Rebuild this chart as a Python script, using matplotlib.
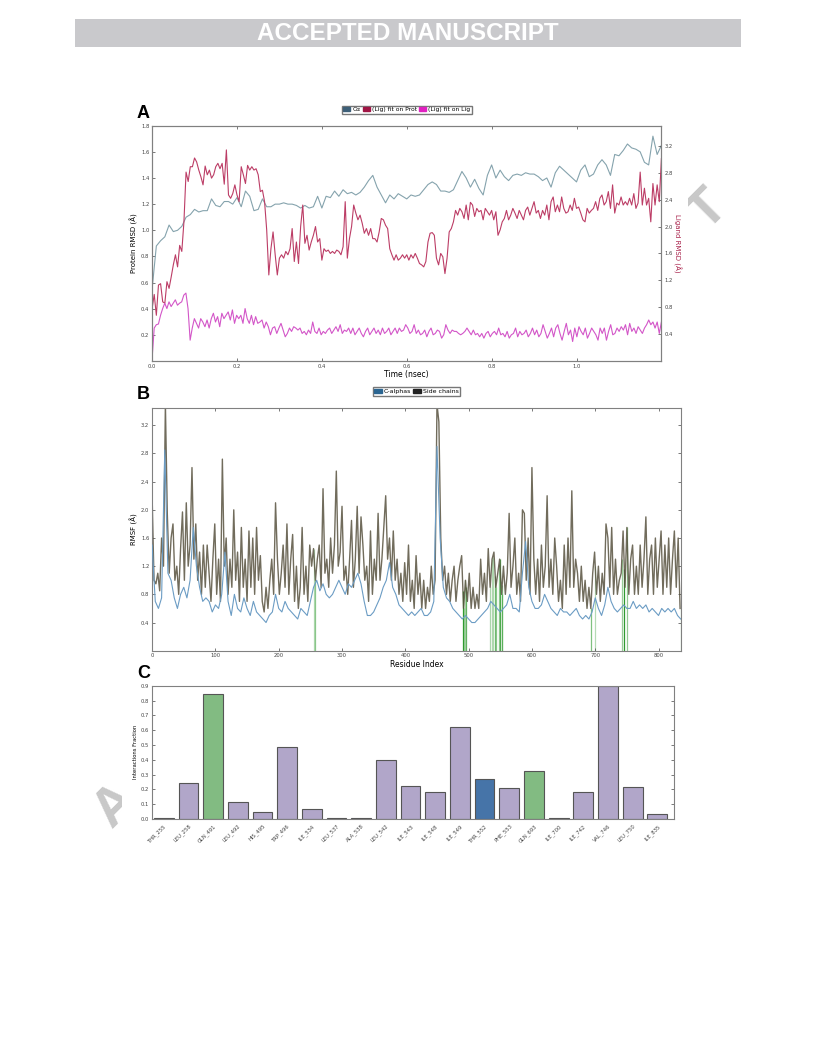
import numpy as np
import matplotlib.pyplot as plt
from matplotlib.patches import Patch, Rectangle

W, H = 816, 1056

# ---- panel A : RMSD vs time ----
ca_rmsd = [0.55, 0.88, 0.92, 0.95, 1.04, 0.99, 1.00, 1.03, 1.10, 1.12,
           1.16, 1.14, 1.15, 1.15, 1.24, 1.19, 1.18, 1.22, 1.22, 1.20,
           1.25, 1.18, 1.30, 1.26, 1.15, 1.16, 1.24, 1.18, 1.18, 1.20,
           1.20, 1.21, 1.20, 1.20, 1.19, 1.17, 1.19, 1.17, 1.18, 1.26,
           1.17, 1.26, 1.25, 1.30, 1.26, 1.31, 1.28, 1.29, 1.27, 1.29,
           1.33, 1.38, 1.42, 1.33, 1.27, 1.21, 1.27, 1.24, 1.28, 1.26,
           1.24, 1.27, 1.26, 1.27, 1.31, 1.35, 1.37, 1.35, 1.30, 1.30,
           1.29, 1.31, 1.38, 1.45, 1.40, 1.33, 1.39, 1.32, 1.27, 1.42,
           1.50, 1.40, 1.46, 1.41, 1.38, 1.42, 1.43, 1.42, 1.44, 1.43,
           1.43, 1.41, 1.38, 1.40, 1.33, 1.44, 1.49, 1.46, 1.43, 1.40,
           1.37, 1.46, 1.50, 1.41, 1.43, 1.50, 1.54, 1.50, 1.42, 1.58,
           1.57, 1.61, 1.66, 1.63, 1.62, 1.60, 1.52, 1.50, 1.72, 1.58,
           1.65]

lig_prot = [0.78, 0.99, 0.68, 1.13, 1.15, 0.88, 0.86, 1.18, 1.08, 1.25,
            1.43, 1.58, 1.40, 1.72, 1.63, 2.07, 2.81, 2.67, 2.89, 2.89,
            3.02, 2.96, 2.84, 2.74, 2.62, 2.90, 2.77, 2.84, 2.72, 2.77,
            2.89, 2.94, 2.86, 2.94, 2.63, 3.14, 2.47, 2.42, 2.49, 2.62,
            2.47, 2.37, 2.89, 2.77, 2.64, 2.91, 2.84, 2.89, 2.84, 2.86,
            2.77, 2.52, 2.54, 2.37, 1.95, 1.28, 1.67, 1.92, 1.58, 1.28,
            1.53, 1.58, 1.53, 1.63, 1.58, 1.67, 1.97, 1.48, 1.77, 1.45,
            2.00, 2.32, 1.75, 1.87, 1.65, 1.77, 1.87, 2.00, 1.77, 1.82,
            1.50, 1.67, 1.63, 1.65, 1.60, 1.63, 1.60, 1.65, 1.63, 1.58,
            1.70, 2.37, 1.53, 1.82, 2.00, 2.32, 2.20, 2.10, 2.17, 2.05,
            1.90, 1.97, 1.87, 1.97, 1.82, 1.82, 1.77, 1.92, 2.12, 2.10,
            2.02, 1.97, 1.67, 1.58, 1.50, 1.58, 1.50, 1.53, 1.58, 1.53,
            1.58, 1.50, 1.58, 1.53, 1.60, 1.53, 1.45, 1.43, 1.40, 1.48,
            1.77, 1.90, 1.91, 1.87, 1.53, 1.43, 1.60, 1.55, 1.30, 1.53,
            1.92, 1.97, 2.07, 2.24, 2.17, 2.27, 2.22, 2.12, 2.32, 2.10,
            2.36, 2.32, 2.15, 2.27, 2.22, 2.24, 2.10, 2.27, 2.22, 2.17,
            2.24, 2.10, 2.22, 1.87, 1.95, 2.07, 2.12, 2.24, 2.10, 2.17,
            2.27, 2.20, 2.12, 2.24, 2.17, 2.10, 2.24, 2.29, 2.17, 2.27,
            2.37, 2.20, 2.24, 2.12, 2.24, 2.17, 2.32, 2.10, 2.37, 2.44,
            2.22, 2.32, 2.22, 2.44, 2.27, 2.20, 2.22, 2.32, 2.24, 2.42,
            2.27, 2.29, 2.20, 2.10, 2.07, 2.27, 2.20, 2.24, 2.27, 2.37,
            2.24, 2.42, 2.47, 2.32, 2.37, 2.52, 2.27, 2.62, 2.20, 2.35,
            2.32, 2.44, 2.32, 2.37, 2.32, 2.42, 2.32, 2.49, 2.27, 2.35,
            2.81, 2.32, 2.57, 2.32, 2.42, 2.07, 2.64, 2.32, 2.62, 2.37,
            3.01]

lig_lig = [0.04, 0.49, 0.54, 0.55, 0.68, 0.78, 0.86, 0.78, 0.88, 0.81,
           0.86, 0.91, 0.83, 0.86, 0.88, 0.98, 1.01, 0.78, 0.31, 0.49,
           0.63, 0.56, 0.49, 0.63, 0.58, 0.51, 0.61, 0.49, 0.63, 0.71,
           0.58, 0.66, 0.51, 0.71, 0.63, 0.68, 0.73, 0.61, 0.76, 0.56,
           0.68, 0.63, 0.68, 0.56, 0.78, 0.63, 0.56, 0.68, 0.54, 0.66,
           0.56, 0.58, 0.61, 0.49, 0.58, 0.51, 0.39, 0.49, 0.51, 0.41,
           0.49, 0.56, 0.46, 0.36, 0.41, 0.49, 0.44, 0.51, 0.49, 0.46,
           0.49, 0.41, 0.44, 0.39, 0.46, 0.41, 0.58, 0.44, 0.41, 0.49,
           0.39, 0.44, 0.41, 0.46, 0.49, 0.41, 0.46, 0.51, 0.44, 0.54,
           0.41, 0.46, 0.44, 0.49, 0.41, 0.49, 0.39, 0.44, 0.49, 0.41,
           0.36, 0.44, 0.49, 0.39, 0.44, 0.49, 0.41, 0.46, 0.39, 0.49,
           0.41, 0.44, 0.49, 0.39, 0.44, 0.49, 0.41, 0.49, 0.44, 0.46,
           0.54, 0.49, 0.41, 0.44, 0.54, 0.41, 0.46, 0.39, 0.41, 0.46,
           0.36, 0.44, 0.49, 0.39, 0.41, 0.46, 0.44, 0.34, 0.39, 0.54,
           0.46, 0.41, 0.46, 0.44, 0.44, 0.41, 0.39, 0.41, 0.44, 0.49,
           0.44, 0.39, 0.46, 0.39, 0.41, 0.36, 0.41, 0.34, 0.41, 0.44,
           0.36, 0.41, 0.44, 0.39, 0.49, 0.39, 0.41, 0.36, 0.44, 0.34,
           0.39, 0.41, 0.49, 0.36, 0.44, 0.39, 0.41, 0.46, 0.36, 0.41,
           0.49, 0.39, 0.46, 0.36, 0.41, 0.54, 0.44, 0.34, 0.41, 0.49,
           0.36, 0.49, 0.54, 0.41, 0.31, 0.44, 0.56, 0.39, 0.46, 0.29,
           0.49, 0.36, 0.51, 0.44, 0.39, 0.49, 0.34, 0.41, 0.49, 0.44,
           0.39, 0.31, 0.49, 0.41, 0.49, 0.31, 0.44, 0.54, 0.39, 0.41,
           0.49, 0.44, 0.51, 0.46, 0.54, 0.39, 0.56, 0.44, 0.49, 0.41,
           0.51, 0.46, 0.41, 0.49, 0.54, 0.61, 0.54, 0.58, 0.49, 0.58,
           0.41, 0.58]

# ---- panel B : RMSF per residue ----
rmsf_sc = [2.2, 1.0, 0.95, 1.1, 0.85, 1.6, 1.2, 3.5, 1.95, 1.1,
           1.6, 1.8, 1.0, 1.2, 0.8, 1.45, 1.97, 1.0, 2.1, 1.2,
           1.5, 2.6, 1.3, 1.8, 1.0, 1.4, 0.8, 1.5, 0.9, 1.5,
           1.1, 0.7, 1.3, 1.8, 0.8, 1.3, 0.7, 2.72, 1.2, 1.6,
           0.8, 1.3, 0.9, 2.0, 1.0, 1.4, 0.7, 1.75, 0.9, 1.3,
           0.7, 1.7, 0.9, 1.6, 0.8, 1.75, 1.0, 1.35, 0.7, 0.55,
           0.9, 0.6, 1.0, 1.3, 0.8, 2.1, 1.3, 0.8, 1.1, 1.5,
           0.9, 1.8, 0.8, 1.3, 1.65, 0.7, 1.2, 0.6, 0.9, 1.75,
           0.8, 1.2, 0.7, 1.5, 1.2, 1.45, 1.0, 1.3, 1.5, 0.9,
           2.3, 1.1, 1.3, 0.9, 1.6, 1.1, 1.5, 2.55, 1.2, 1.4,
           2.05, 1.0, 1.2, 0.8, 1.3, 1.85, 0.9, 1.3, 2.05, 1.1,
           1.9, 1.5, 1.0, 1.2, 0.7, 1.7, 0.8, 1.3, 1.0, 1.95,
           1.0, 1.3, 1.75, 2.2, 1.3, 1.6, 1.0, 1.7, 1.0, 1.3,
           0.8, 1.1, 0.7, 1.25, 0.8, 1.5, 0.7, 1.0, 0.6, 1.35,
           0.8, 1.1, 0.6, 1.0, 0.6, 0.9, 0.7, 1.2, 0.8, 1.0,
           3.5, 3.25, 1.6, 1.0, 1.2, 0.8, 1.1, 0.7, 1.0, 1.2,
           0.7, 1.0, 1.2, 1.35, 0.6, 1.0, 0.7, 1.1, 0.6, 0.9,
           0.6, 0.8, 0.6, 1.3, 0.8, 1.1, 0.7, 1.45, 0.9, 1.3,
           1.4, 0.9, 1.1, 1.3, 0.8, 1.2, 0.8, 1.1, 1.95, 0.9,
           1.2, 1.6, 0.8, 1.1, 0.7, 2.0, 1.95, 1.0, 1.6, 0.8,
           2.6, 1.3, 0.8, 1.3, 0.7, 1.5, 0.9, 1.2, 2.2, 0.9,
           1.3, 0.8, 1.6, 1.2, 0.7, 1.0, 0.6, 1.5, 0.8, 1.6,
           0.9, 2.27, 0.9, 1.3, 1.1, 0.7, 1.2, 0.7, 1.0, 0.6,
           0.9, 0.6, 1.1, 1.4, 0.8, 1.2, 0.7, 1.1, 0.8, 1.8,
           1.6, 0.9, 1.75, 0.8, 1.3, 0.8, 1.0, 1.1, 1.7, 0.9,
           1.75, 0.8, 1.3, 1.5, 0.8, 1.2, 0.8, 1.5, 0.9, 1.3,
           1.9, 0.8, 1.3, 1.5, 0.8, 1.6, 0.9, 1.3, 1.7, 0.8,
           1.5, 0.9, 1.6, 0.8, 1.3, 1.7, 0.9, 1.6, 0.6]

rmsf_ca = [1.5, 0.7, 0.6, 0.75, 2.85, 1.1, 1.0, 0.75, 0.6, 0.8,
           0.9, 0.75, 1.0, 1.75, 1.2, 0.9, 0.7, 0.75, 0.7, 0.55,
           0.65, 0.6, 0.8, 1.4, 0.7, 0.5, 0.8, 0.6, 0.55, 0.75,
           0.6, 0.5, 0.7, 0.55, 0.5, 0.45, 0.4, 0.5, 0.55, 0.8,
           0.6, 0.55, 0.7, 0.6, 0.55, 0.5, 0.45, 0.6, 0.55, 0.5,
           0.7, 0.9, 1.0, 0.85, 0.95, 0.8, 0.75, 0.8, 0.9, 1.0,
           0.9, 0.8, 0.95, 0.9, 1.0, 1.1, 0.95, 0.7, 0.5, 0.5,
           0.55, 0.65, 0.75, 0.9, 1.0, 1.25, 0.9, 0.8, 0.65, 0.6,
           0.55, 0.5, 0.55, 0.5, 0.55, 0.6, 0.5, 0.5, 0.55, 0.7,
           2.9, 1.6, 0.9, 0.75, 0.7, 0.6, 0.55, 0.5, 0.45, 0.5,
           0.45, 0.4, 0.4, 0.45, 0.5, 0.55, 0.6, 0.7, 0.65, 0.6,
           0.55, 0.6, 0.65, 0.8, 0.6, 0.6, 0.55, 1.1, 1.55, 0.9,
           0.7, 0.6, 0.6, 0.65, 0.8, 0.7, 0.6, 0.55, 0.5, 0.6,
           0.55, 0.55, 0.5, 0.55, 0.6, 0.5, 0.45, 0.5, 0.45, 0.55,
           0.75, 0.6, 0.5, 0.65, 0.9, 0.7, 0.6, 0.55, 0.6, 0.65,
           0.6, 0.6, 0.7, 0.6, 0.65, 0.6, 0.65, 0.55, 0.6, 0.55,
           0.5, 0.6, 0.55, 0.6, 0.55, 0.6, 0.5, 0.45]

# ---- panel C : protein-ligand contacts ----
residues = ['THR_255', 'LEU_258', 'GLN_491', 'LEU_492', 'HIS_495', 'TRP_496',
            'ILE_534', 'LEU_537', 'ALA_538', 'LEU_542', 'ILE_543', 'ILE_548',
            'ILE_549', 'THR_552', 'PHE_553', 'GLN_693', 'ILE_700', 'ILE_742',
            'VAL_746', 'LEU_750', 'ILE_835']
fractions = [0.009, 0.241, 0.842, 0.113, 0.047, 0.486, 0.065, 0.005, 0.005,
             0.396, 0.223, 0.182, 0.620, 0.270, 0.207, 0.324, 0.005, 0.182,
             0.899, 0.214, 0.032]
kinds = ['hb', 'hp', 'hb', 'hp', 'hp', 'hp', 'hp', 'hp', 'hp', 'hp', 'hp',
         'hp', 'hp', 'wb', 'hp', 'hb', 'hp', 'hp', 'hp', 'hp', 'hp']
contact_res = [int(r.split('_')[1]) for r in residues]

kind_color = {'hb': '#82bb82', 'hp': '#b1a6c9', 'wb': '#4674a8'}


def fx(x):
    return x / W


def fy(y):
    return 1 - y / H


plt.rcParams['font.family'] = 'DejaVu Sans'
fig = plt.figure(figsize=(W / 100, H / 100), dpi=100)
fig.patch.set_facecolor('white')

# header band
fig.patches.append(Rectangle((fx(75), fy(47)), 666 / W, 28 / H, transform=fig.transFigure,
                             facecolor='#c9c9cc', edgecolor='none', zorder=0))
fig.text(fx(407.5), fy(34), 'ACCEPTED MANUSCRIPT', ha='center', va='center', color='white',
         fontsize=17.5, weight='bold', family='Liberation Sans', zorder=1)

# diagonal watermark, mostly hidden behind the figure panel
wm = 'ACCEPTED MANUSCRIPT'
x0, y0, x1, y1 = 125.7, 814.7, 718.0, 220.0
for i, ch in enumerate(wm):
    f = i / (len(wm) - 1)
    fig.text(fx(x0 + f * (x1 - x0)), fy(y0 + f * (y1 - y0)), ch, rotation=45,
             rotation_mode='anchor', ha='center', va='baseline', fontsize=39,
             weight='bold', family='Liberation Sans', color='#c8c8c8', zorder=0.5)
# white panel that carries the figure (hides the middle of the watermark)
fig.patches.append(Rectangle((fx(122), fy(860)), (688 - 122) / W, 775 / H, transform=fig.transFigure,
                             facecolor='white', edgecolor='none', zorder=1))

tick_fs = 3.8
lab_fs = 5.0
spine_c = '#808080'


def style(ax):
    for s in ax.spines.values():
        s.set_color(spine_c)
        s.set_linewidth(0.8)
    ax.tick_params(direction='in', length=2.5, width=0.5, labelsize=tick_fs, pad=2,
                   colors='#444444', top=True)


# ---------------- A ----------------
axA = fig.add_axes([fx(152.1), fy(361), (661.4 - 152.1) / W, (361 - 125.7) / H])
axA.set_zorder(2)
tA = np.linspace(0, 1.2, len(ca_rmsd))
axA.plot(tA, ca_rmsd, color='#85a3ad', lw=0.8)
axA.set_xlim(0, 1.2)
axA.set_ylim(0, 1.8)
axA.set_yticks(np.arange(0.2, 1.81, 0.2))
axA.set_xticks(np.arange(0, 1.01, 0.2))
axA.set_xlabel('Time (nsec)', fontsize=5.5, labelpad=1)
axA.set_ylabel('Protein RMSD (Å)', fontsize=lab_fs, labelpad=2)
style(axA)
axA.tick_params(right=False)
axA2 = axA.twinx()
axA2.set_zorder(3)
tL = np.linspace(0, 1.2, len(lig_prot))
tG = np.linspace(0, 1.2, len(lig_lig))
axA2.plot(tL, lig_prot, color='#bc3d66', lw=0.8)
axA2.plot(tG, lig_lig, color='#d356c8', lw=0.8)
axA2.set_ylim(0, 3.5)
axA2.set_yticks(np.arange(0.4, 3.21, 0.4))
axA2.set_ylabel('Ligand RMSD (Å)', fontsize=lab_fs, color='#a8204a', rotation=270, labelpad=6)
style(axA2)
axA2.tick_params(left=False)
axA2.legend(handles=[Patch(color='#3d5f78', label='Cα'),
                     Patch(color='#a01545', label='(Lig) fit on Prot'),
                     Patch(color='#e020c0', label='(Lig) fit on Lig')],
            loc='lower center', bbox_to_anchor=(0.5, 1.05), ncol=3, fontsize=4.3,
            handlelength=1.2, handleheight=0.6, handletextpad=0.3, columnspacing=0.4,
            borderpad=0.25, borderaxespad=0, fancybox=False, edgecolor='#777777', framealpha=1)

# ---------------- B ----------------
axB = fig.add_axes([fx(152.1), fy(650.7), (680.7 - 152.1) / W, (650.7 - 407.7) / H])
axB.set_zorder(2)
res_sc = np.arange(len(rmsf_sc)) * 3
res_ca = np.arange(len(rmsf_ca)) * 5
heights = np.interp(contact_res, res_sc, rmsf_sc)
for r, h, fr in zip(contact_res, heights, fractions):
    axB.vlines(r, 0, h, color='#2f9a2f', lw=0.9, alpha=min(1.0, 0.35 + 0.8 * fr), zorder=1)
axB.plot(res_sc, rmsf_sc, color='#58523f', lw=1.0, alpha=0.85, zorder=2)
axB.plot(res_ca, rmsf_ca, color='#6b9cc4', lw=0.8, zorder=3)
axB.set_xlim(0, 835)
axB.set_ylim(0, 3.45)
axB.set_yticks(np.arange(0.4, 3.21, 0.4))
axB.set_xticks(np.arange(0, 801, 100))
axB.set_xlabel('Residue Index', fontsize=5.5, labelpad=1)
axB.set_ylabel('RMSF (Å)', fontsize=lab_fs, labelpad=2)
style(axB)
axB.tick_params(right=True)
axB.legend(handles=[Patch(color='#2b6591', label='C-alphas'),
                    Patch(color='#222222', label='Side chains')],
           loc='lower center', bbox_to_anchor=(0.5, 1.05), ncol=2, fontsize=4.5,
           handlelength=1.2, handleheight=0.6, handletextpad=0.3, columnspacing=0.4,
           borderpad=0.25, borderaxespad=0, fancybox=False, edgecolor='#777777', framealpha=1)

# ---------------- C ----------------
axC = fig.add_axes([fx(152.1), fy(819), (673.9 - 152.1) / W, (819 - 685.7) / H])
axC.set_zorder(2)
xc = np.arange(len(residues))
axC.bar(xc, fractions, width=0.8, color=[kind_color[k] for k in kinds],
        edgecolor='#555555', linewidth=0.8)
axC.set_xlim(-0.47, len(residues) - 0.33)
axC.set_ylim(0, 0.9)
axC.set_yticks(np.arange(0, 0.91, 0.1))
axC.set_xticks(xc)
axC.set_xticklabels(residues, rotation=45, ha='right', rotation_mode='anchor')
axC.set_ylabel('Interactions Fraction', fontsize=3.8, labelpad=2)
style(axC)
axC.tick_params(right=True)
axC.tick_params(axis='x', length=0, pad=3)

# panel letters
for lab, xp, yp in [('A', 137, 118), ('B', 137, 399), ('C', 137, 678)]:
    fig.text(fx(xp), fy(yp), lab, fontsize=13, weight='bold', family='Liberation Sans',
             ha='left', va='baseline', zorder=5)

fig.savefig('out.png', dpi=100, facecolor='white')
